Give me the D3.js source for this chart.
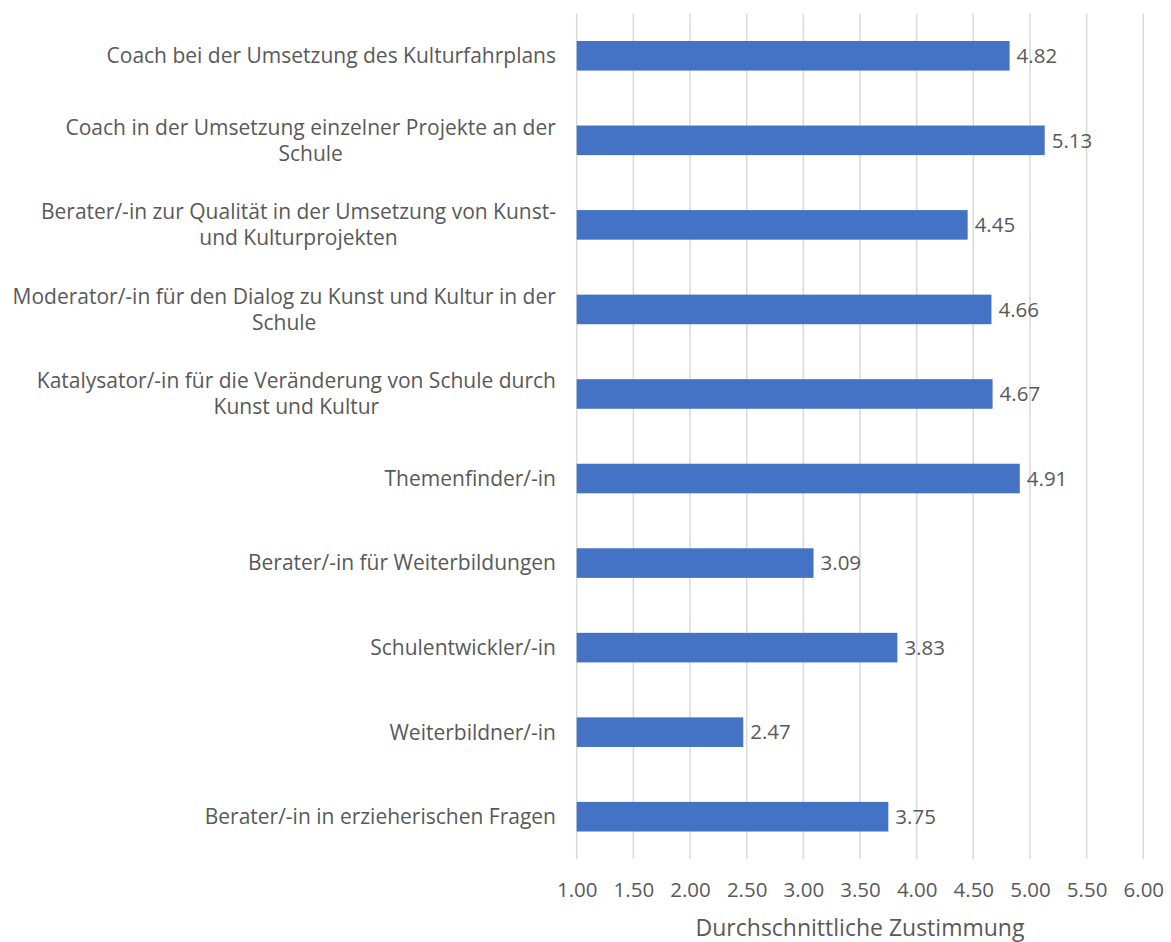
<!DOCTYPE html>
<html>
<head>
<meta charset="utf-8">
<script src="https://cdn.jsdelivr.net/npm/d3@7"></script>
<style>
  html, body { margin: 0; padding: 0; background: #ffffff; }
  svg { display: block; }
  text { font-family: "Open Sans", "Noto Sans", sans-serif; fill: #595959; }
</style>
</head>
<body>
<svg id="chart" width="1171" height="942"></svg>
<script>
// Role categories (top to bottom); "\n" marks the wrap point of long labels
const categories = [
  "Coach bei der Umsetzung des Kulturfahrplans",
  "Coach in der Umsetzung einzelner Projekte an der\nSchule",
  "Berater/-in zur Qualität in der Umsetzung von Kunst-\nund Kulturprojekten",
  "Moderator/-in für den Dialog zu Kunst und Kultur in der\nSchule",
  "Katalysator/-in für die Veränderung von Schule durch\nKunst und Kultur",
  "Themenfinder/-in",
  "Berater/-in für Weiterbildungen",
  "Schulentwickler/-in",
  "Weiterbildner/-in",
  "Berater/-in in erzieherischen Fragen"
];

// Mean agreement per role
const values = [4.82, 5.13, 4.45, 4.66, 4.67, 4.91, 3.09, 3.83, 2.47, 3.75];

// Value axis ticks
const tickValues = [1.0, 1.5, 2.0, 2.5, 3.0, 3.5, 4.0, 4.5, 5.0, 5.5, 6.0];
const axisTitle = "Durchschnittliche Zustimmung";

const svg = d3.select("#chart");
const plot = { left: 576.7, right: 1143.3, top: 13.5, bottom: 859 };

const x = d3.scaleLinear().domain([1, 6]).range([plot.left, plot.right]);
const y = d3.scaleBand()
  .domain(categories)
  .range([plot.top, plot.bottom])
  .paddingInner(0.65)
  .paddingOuter(0.325);

// Vertical gridlines, one per tick
svg.append("g")
  .selectAll("line")
  .data(tickValues)
  .join("line")
  .attr("x1", d => x(d)).attr("x2", d => x(d))
  .attr("y1", plot.top).attr("y2", plot.bottom)
  .attr("stroke", "#d9d9d9")
  .attr("stroke-width", 1.5);

// Bars
svg.append("g")
  .selectAll("rect")
  .data(values)
  .join("rect")
  .attr("x", x(1))
  .attr("y", (d, i) => y(categories[i]))
  .attr("width", d => x(d) - x(1))
  .attr("height", y.bandwidth())
  .attr("fill", "#4472c4");

// Value labels at bar ends
svg.append("g")
  .selectAll("text")
  .data(values)
  .join("text")
  .attr("x", d => x(d) + 7)
  .attr("y", (d, i) => y(categories[i]) + y.bandwidth() / 2)
  .attr("dy", "0.35em")
  .style("font-size", "20.5px")
  .text(d => d.toFixed(2));

// Category labels, wrapped lines centred on each other and on the bar
const lineH = 26;
const catG = svg.append("g");
categories.forEach(c => {
  const lines = c.split("\n");
  const cy = y(c) + y.bandwidth() / 2;
  const t = catG.append("text")
    .attr("text-anchor", "middle")
    .style("font-size", "21px");
  lines.forEach((ln, j) => {
    t.append("tspan")
      .attr("x", 0)
      .attr("y", cy + (j - (lines.length - 1) / 2) * lineH)
      .attr("dy", "0.35em")
      .text(ln);
  });
  // right edge of the widest line sits at the label column edge
  const w = t.node().getBBox().width;
  t.selectAll("tspan").attr("x", 556 - w / 2);
});

// Value axis tick labels
const xAxis = d3.axisBottom(x)
  .tickValues(tickValues)
  .tickFormat(d3.format(".2f"))
  .tickSize(0)
  .tickPadding(0);
const ax = svg.append("g")
  .attr("transform", `translate(0, ${plot.bottom + 22})`)
  .call(xAxis);
ax.select(".domain").remove();
ax.selectAll("text")
  .attr("dy", "0.35em")
  .attr("y", 9)
  .style("font-size", "20.5px")
  .style("font-family", null)
  .attr("fill", null);

// Axis title
svg.append("text")
  .attr("x", (plot.left + plot.right) / 2)
  .attr("y", 928)
  .attr("dy", "0.35em")
  .attr("text-anchor", "middle")
  .style("font-size", "23px")
  .text(axisTitle);
</script>
</body>
</html>
